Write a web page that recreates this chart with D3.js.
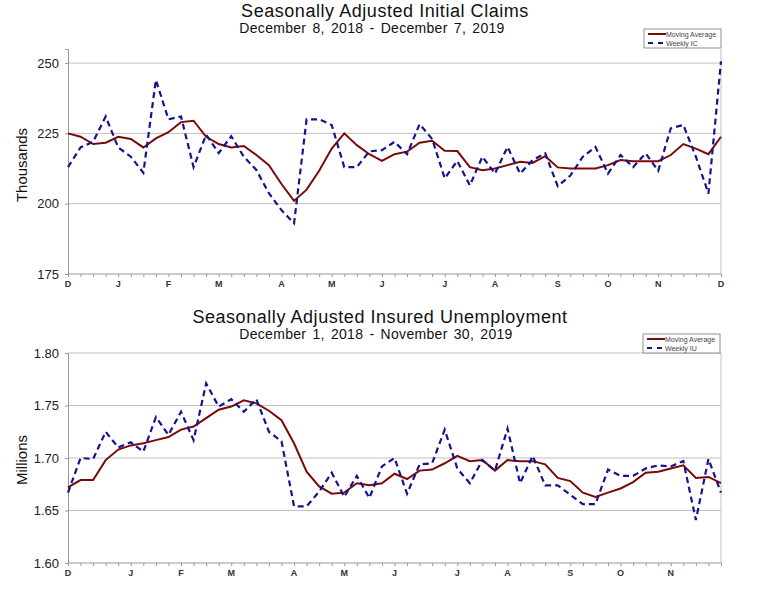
<!DOCTYPE html>
<html>
<head>
<meta charset="utf-8">
<script src="https://cdn.jsdelivr.net/npm/d3@7"></script>
<style>
  body { margin: 0; background: #fff; }
  text { font-family: "Liberation Sans", Arial, sans-serif; }
</style>
</head>
<body>
<svg id="chart" width="759" height="601"></svg>
<script>
// weekly initial claims, Dec 8 2018 - Dec 7 2019 (thousands)
var icWeekly = [213,220,222,231,220,216.7,211,244,230,231,213,224.5,218,224,216.7,212,203.7,197.7,193,230,230,228,213,213,218.6,
  219,222,217.6,228.3,223,209,215.2,206.5,216.7,210.7,220.2,210.7,215.5,217.9,206.2,210,216.7,220.2,210.7,217.3,213,217.9,211.7,226.8,228,216.7,203.6,250.6];
var icAvg = [225,223.8,221.2,221.7,223.8,223,220,223.2,225.4,229,229.5,223.8,221.2,220,220.5,217.3,213.7,207,201,205,211.7,219.6,225,220.8,217.6,
  215.2,217.6,218.5,221.7,222.4,218.8,218.7,213,211.9,212.5,213.7,214.9,214.5,216.9,212.9,212.5,212.5,212.5,213.7,215.5,215.1,215.1,215.1,217.3,221.2,219.6,217.6,223.8];
var icMonths = [[0,"D"],[4,"J"],[8,"F"],[12,"M"],[17,"A"],[21,"M"],[25,"J"],[30,"J"],[34,"A"],[39,"S"],[43,"O"],[47,"N"],[52,"D"]];
var icTicks = [175,200,225,250];

// weekly insured unemployment, Dec 1 2018 - Nov 30 2019 (millions)
var iuWeekly = [1.667,1.700,1.699,1.725,1.710,1.715,1.706,1.739,1.722,1.744,1.717,1.771,1.749,1.756,1.744,1.756,1.725,1.716,1.654,1.654,1.668,1.686,1.663,1.683,1.662,
  1.692,1.700,1.666,1.694,1.695,1.727,1.690,1.676,1.698,1.688,1.728,1.676,1.702,1.674,1.674,1.665,1.656,1.656,1.689,1.683,1.683,1.690,1.693,1.692,1.697,1.641,1.699,1.667];
var iuAvg = [1.672,1.679,1.679,1.698,1.708,1.712,1.714,1.717,1.720,1.727,1.730,1.738,1.746,1.749,1.755,1.752,1.745,1.736,1.714,1.687,1.673,1.666,1.667,1.676,1.674,
  1.676,1.685,1.680,1.688,1.689,1.695,1.702,1.697,1.698,1.688,1.698,1.697,1.697,1.694,1.681,1.678,1.667,1.663,1.667,1.671,1.677,1.686,1.687,1.690,1.693,1.681,1.682,1.676];
var iuMonths = [[0,"D"],[5,"J"],[9,"F"],[13,"M"],[18,"A"],[22,"M"],[26,"J"],[31,"J"],[35,"A"],[40,"S"],[44,"O"],[48,"N"]];
var iuTicks = [1.60,1.65,1.70,1.75,1.80];

var svg = d3.select("#chart");

function drawPanel(o) {
  var g = svg.append("g");
  var x = d3.scaleLinear().domain([0, o.avg.length - 1]).range([68, 721]);
  var y = d3.scaleLinear().domain(o.domain).range([o.bottom, o.top]);

  // titles
  g.append("text").attr("x", o.titleX).attr("y", o.titleY).attr("text-anchor", "middle")
    .attr("font-size", 18).attr("letter-spacing", 0.55).attr("fill", "#111").text(o.title);
  g.append("text").attr("x", o.subX).attr("y", o.titleY + 16).attr("text-anchor", "middle")
    .attr("font-size", 14).attr("letter-spacing", 0.3).attr("word-spacing", 2).attr("fill", "#111").text(o.sub);

  // grid
  g.selectAll(".grid").data(o.ticks.slice(1)).enter().append("line")
    .attr("x1", 68).attr("x2", 721)
    .attr("y1", function(d){ return y(d); }).attr("y2", function(d){ return y(d); })
    .attr("stroke", "#c0c0c0").attr("stroke-width", 1);

  // frame
  g.append("line").attr("x1", 721).attr("x2", 721).attr("y1", o.top).attr("y2", o.bottom)
    .attr("stroke", "#c0c0c0");

  // y axis
  var yAxis = d3.axisLeft(y).tickValues(o.ticks).tickSize(3).tickPadding(6).tickFormat(o.fmt);
  var ya = g.append("g").attr("transform", "translate(68,0)").call(yAxis);
  ya.select(".domain").attr("stroke", "#999");
  ya.selectAll(".tick line").attr("stroke", "#999");
  ya.selectAll("text").attr("font-size", 13).attr("fill", "#222")
    .attr("font-family", "Liberation Sans, Arial, sans-serif");

  // x axis with weekly ticks
  var xAxis = d3.axisBottom(x).tickValues(d3.range(o.avg.length)).tickSize(3).tickFormat("");
  var xa = g.append("g").attr("transform", "translate(0," + o.bottom + ")").call(xAxis);
  xa.select(".domain").attr("stroke", "#999").attr("d", "M68,0H721");
  xa.selectAll(".tick line").attr("stroke", "#999");
  g.selectAll(".mlab").data(o.months).enter().append("text")
    .attr("x", function(d){ return x(d[0]); }).attr("y", o.bottom + 13)
    .attr("text-anchor", "middle").attr("font-size", 9).attr("font-weight", "bold").attr("fill", "#333")
    .text(function(d){ return d[1]; });

  // y label
  g.append("text").attr("transform", "translate(27," + o.labelY + ") rotate(-90)")
    .attr("text-anchor", "middle").attr("font-size", 15).attr("fill", "#111").text(o.ylabel);

  // lines
  var line = d3.line().x(function(d, i){ return x(i); }).y(function(d){ return y(d); });
  g.append("path").datum(o.avg).attr("d", line).attr("fill", "none")
    .attr("stroke", "#7a0a0a").attr("stroke-width", 2);
  g.append("path").datum(o.weekly).attr("d", line).attr("fill", "none")
    .attr("stroke", "#14148c").attr("stroke-width", 2.2).attr("stroke-dasharray", "6,4");

  // legend
  var lg = g.append("g").attr("transform", "translate(" + o.legX + "," + o.legY + ")");
  lg.append("rect").attr("width", 77).attr("height", 19).attr("fill", "#fff")
    .attr("stroke", "#777").attr("stroke-width", 0.8);
  lg.append("line").attr("x1", 4).attr("x2", 22).attr("y1", 5).attr("y2", 5)
    .attr("stroke", "#7a0a0a").attr("stroke-width", 2);
  lg.append("line").attr("x1", 4).attr("x2", 22).attr("y1", 14).attr("y2", 14)
    .attr("stroke", "#14148c").attr("stroke-width", 2).attr("stroke-dasharray", "5,5");
  lg.append("text").attr("x", 22).attr("y", 7.5).attr("font-size", 7).attr("fill", "#444").text("Moving Average");
  lg.append("text").attr("x", 22).attr("y", 16.5).attr("font-size", 7).attr("fill", "#444").text(o.legName);
}

drawPanel({
  weekly: icWeekly, avg: icAvg, months: icMonths, ticks: icTicks,
  domain: [175, 255], top: 49, bottom: 274,
  title: "Seasonally Adjusted Initial Claims", sub: "December 8, 2018 - December 7, 2019",
  titleX: 385, subX: 372, titleY: 17, ylabel: "Thousands", labelY: 165,
  fmt: d3.format("d"), legX: 644, legY: 29, legName: "Weekly IC"
});

drawPanel({
  weekly: iuWeekly, avg: iuAvg, months: iuMonths, ticks: iuTicks,
  domain: [1.60, 1.80], top: 353, bottom: 563,
  title: "Seasonally Adjusted Insured Unemployment", sub: "December 1, 2018 - November 30, 2019",
  titleX: 380, subX: 376, titleY: 323, ylabel: "Millions", labelY: 460,
  fmt: d3.format(".2f"), legX: 643, legY: 334, legName: "Weekly IU"
});
</script>
</body>
</html>
